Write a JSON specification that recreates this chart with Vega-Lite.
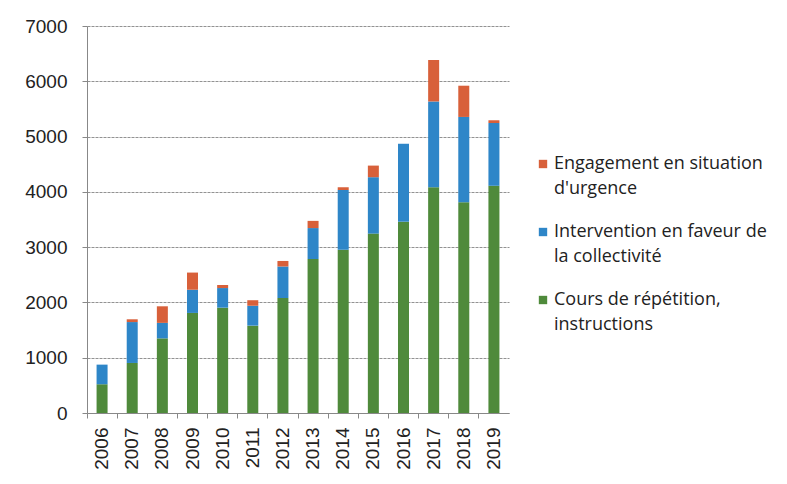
{
  "$schema": "https://vega.github.io/schema/vega-lite/v6.json",
  "width": 422,
  "height": 387,
  "autosize": {"type": "none"},
  "padding": {"left": 87, "top": 26, "right": 278, "bottom": 71},
  "background": "white",
  "config": {"view": {"stroke": null}},
  "data": {
    "values": [
      {"year": "2006", "category": "Cours de répétition, instructions", "value": 520},
      {"year": "2006", "category": "Intervention en faveur de la collectivité", "value": 355},
      {"year": "2006", "category": "Engagement en situation d'urgence", "value": 0},
      {"year": "2007", "category": "Cours de répétition, instructions", "value": 905},
      {"year": "2007", "category": "Intervention en faveur de la collectivité", "value": 740},
      {"year": "2007", "category": "Engagement en situation d'urgence", "value": 50},
      {"year": "2008", "category": "Cours de répétition, instructions", "value": 1350},
      {"year": "2008", "category": "Intervention en faveur de la collectivité", "value": 280},
      {"year": "2008", "category": "Engagement en situation d'urgence", "value": 300},
      {"year": "2009", "category": "Cours de répétition, instructions", "value": 1810},
      {"year": "2009", "category": "Intervention en faveur de la collectivité", "value": 420},
      {"year": "2009", "category": "Engagement en situation d'urgence", "value": 310},
      {"year": "2010", "category": "Cours de répétition, instructions", "value": 1905},
      {"year": "2010", "category": "Intervention en faveur de la collectivité", "value": 355},
      {"year": "2010", "category": "Engagement en situation d'urgence", "value": 55},
      {"year": "2011", "category": "Cours de répétition, instructions", "value": 1580},
      {"year": "2011", "category": "Intervention en faveur de la collectivité", "value": 360},
      {"year": "2011", "category": "Engagement en situation d'urgence", "value": 100},
      {"year": "2012", "category": "Cours de répétition, instructions", "value": 2080},
      {"year": "2012", "category": "Intervention en faveur de la collectivité", "value": 570},
      {"year": "2012", "category": "Engagement en situation d'urgence", "value": 100},
      {"year": "2013", "category": "Cours de répétition, instructions", "value": 2785},
      {"year": "2013", "category": "Intervention en faveur de la collectivité", "value": 560},
      {"year": "2013", "category": "Engagement en situation d'urgence", "value": 130},
      {"year": "2014", "category": "Cours de répétition, instructions", "value": 2955},
      {"year": "2014", "category": "Intervention en faveur de la collectivité", "value": 1080},
      {"year": "2014", "category": "Engagement en situation d'urgence", "value": 50},
      {"year": "2015", "category": "Cours de répétition, instructions", "value": 3245},
      {"year": "2015", "category": "Intervention en faveur de la collectivité", "value": 1020},
      {"year": "2015", "category": "Engagement en situation d'urgence", "value": 210},
      {"year": "2016", "category": "Cours de répétition, instructions", "value": 3460},
      {"year": "2016", "category": "Intervention en faveur de la collectivité", "value": 1410},
      {"year": "2016", "category": "Engagement en situation d'urgence", "value": 0},
      {"year": "2017", "category": "Cours de répétition, instructions", "value": 4085},
      {"year": "2017", "category": "Intervention en faveur de la collectivité", "value": 1550},
      {"year": "2017", "category": "Engagement en situation d'urgence", "value": 750},
      {"year": "2018", "category": "Cours de répétition, instructions", "value": 3810},
      {"year": "2018", "category": "Intervention en faveur de la collectivité", "value": 1545},
      {"year": "2018", "category": "Engagement en situation d'urgence", "value": 565},
      {"year": "2019", "category": "Cours de répétition, instructions", "value": 4110},
      {"year": "2019", "category": "Intervention en faveur de la collectivité", "value": 1135},
      {"year": "2019", "category": "Engagement en situation d'urgence", "value": 50}
    ]
  },
  "transform": [
    {"calculate": "indexof(['Cours de répétition, instructions', 'Intervention en faveur de la collectivité', \"Engagement en situation d'urgence\"], datum.category)", "as": "stackOrder"}
  ],
  "mark": {"type": "bar", "size": 11},
  "encoding": {
    "x": {
      "field": "year",
      "type": "ordinal",
      "title": null,
      "scale": {"paddingInner": 0, "paddingOuter": 0},
      "axis": {
        "labelAngle": -90,
        "labelFont": "Liberation Sans",
        "labelFontSize": 19,
        "labelColor": "#222",
        "labelPadding": 9,
        "bandPosition": 0,
        "tickSize": 5,
        "tickColor": "#888",
        "domainColor": "#888",
        "grid": false
      }
    },
    "y": {
      "field": "value",
      "type": "quantitative",
      "stack": "zero",
      "title": null,
      "scale": {"domain": [0, 7000], "nice": false},
      "axis": {
        "values": [0, 1000, 2000, 3000, 4000, 5000, 6000, 7000],
        "format": "d",
        "labelFont": "Liberation Sans",
        "labelFontSize": 19,
        "labelColor": "#222",
        "labelPadding": 15,
        "tickSize": 5,
        "tickColor": "#888",
        "domainColor": "#888",
        "gridColor": "#777",
        "gridDash": [3, 1],
        "gridOpacity": 0.8
      }
    },
    "color": {
      "field": "category",
      "type": "nominal",
      "scale": {
        "domain": ["Engagement en situation d'urgence", "Intervention en faveur de la collectivité", "Cours de répétition, instructions"],
        "range": ["#d8603a", "#2e86c8", "#4f8a3b"]
      },
      "legend": {
        "title": null,
        "orient": "none",
        "legendX": 447,
        "legendY": 129,
        "symbolType": "square",
        "symbolSize": 70,
        "symbolStrokeWidth": 0,
        "labelFont": "Open Sans",
        "labelFontSize": 18,
        "labelColor": "#222",
        "labelLimit": 300,
        "labelOffset": 2,
        "rowPadding": 25,
        "labelExpr": "datum.label == \"Engagement en situation d'urgence\" ? ['Engagement en situation', \"d'urgence\"] : datum.label == 'Intervention en faveur de la collectivité' ? ['Intervention en faveur de', 'la collectivité'] : ['Cours de répétition,', 'instructions']",
        "encode": {"labels": {"update": {"lineHeight": {"value": 25}}}}
      }
    },
    "order": {"field": "stackOrder", "type": "quantitative"}
  }
}
